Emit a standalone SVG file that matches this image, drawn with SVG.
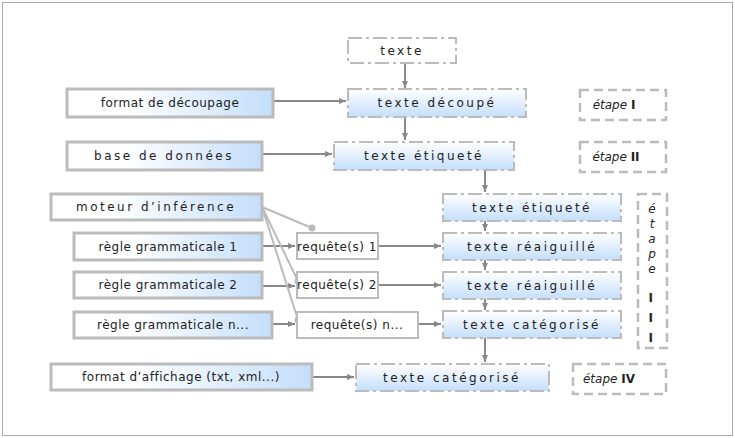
<svg xmlns="http://www.w3.org/2000/svg" width="735" height="438" viewBox="0 0 735 438">
<defs>
<linearGradient id="gh" x1="0" y1="0" x2="1" y2="0"><stop offset="0.3" stop-color="#fff"/><stop offset="1" stop-color="#c4defb"/></linearGradient>
<linearGradient id="gv" x1="0" y1="0" x2="0" y2="1"><stop offset="0" stop-color="#fff"/><stop offset="1" stop-color="#c4defb"/></linearGradient>
<marker id="a" markerWidth="8" markerHeight="8" refX="7" refY="4" orient="auto" markerUnits="userSpaceOnUse"><path d="M0,1 L7,4 L0,7 z" fill="#888"/></marker>
<marker id="c" markerWidth="8" markerHeight="8" refX="4" refY="4" markerUnits="userSpaceOnUse"><circle cx="4" cy="4" r="3.5" fill="#bbb"/></marker>
</defs>
<style>
.s{fill:url(#gh);stroke:#bbb;stroke-width:3}
.d{fill:url(#gv);stroke:#bbb;stroke-width:2;stroke-dasharray:14 4 3 4}
.e{fill:none;stroke:#bbb;stroke-width:2.5;stroke-dasharray:9 5}
.w{fill:#fff;stroke:#bbb;stroke-width:2}
text{font-family:"DejaVu Sans",sans-serif;font-size:12px;fill:#222;text-anchor:middle;letter-spacing:2.5px}
.t{letter-spacing:0.5px}
.i{font-style:italic;letter-spacing:0}
.l{stroke:#888;stroke-width:2;fill:none;marker-end:url(#a)}
.g{stroke:#bbb;stroke-width:2;fill:none;marker-end:url(#c)}
</style>
<rect x="2.5" y="2.5" width="730" height="433" fill="#fff" stroke="#aaa"/>
<g id="connectors">
<path class="l" d="M405,63 V88"/>
<path class="l" d="M273,101 H346"/>
<path class="l" d="M405,117 V140"/>
<path class="l" d="M262,154 H332"/>
<path class="l" d="M485,170 V192"/>
<path class="l" d="M485,221 V231"/>
<path class="l" d="M485,260 V270"/>
<path class="l" d="M485,299 V310"/>
<path class="l" d="M485,338 V362"/>
<path class="l" d="M312,377 H354"/>
<path class="l" d="M262,246 H295"/>
<path class="l" d="M262,286 H295"/>
<path class="l" d="M272,324 H295"/>
<path class="l" d="M378,246 H441"/>
<path class="l" d="M378,285 H441"/>
<path class="l" d="M418,324 H441"/>
<path class="g" d="M262,207 L312,228"/>
<path class="g" d="M262,207 L298,281"/>
<path class="g" d="M262,207 L298,320"/>
</g>
<g id="texte"><rect class="d" x="348" y="38" width="108" height="25" style="fill:#fff"/><text x="402" y="55">texte</text></g>
<g id="decoupe"><rect class="d" x="348" y="89" width="178" height="28"/><text x="437" y="107">texte découpé</text></g>
<g id="format"><rect class="s" x="67" y="89" width="206" height="28"/><text class="t" x="170" y="107">format de découpage</text></g>
<g id="etape1"><rect class="e" x="580" y="90" width="86" height="30"/><text class="i" x="614" y="109">étape <tspan font-weight="bold" font-style="normal">I</tspan></text></g>
<g id="bdd"><rect class="s" x="67" y="142" width="195" height="28"/><text x="164" y="160">base de données</text></g>
<g id="etiq1"><rect class="d" x="334" y="142" width="180" height="28"/><text x="424" y="160">texte étiqueté</text></g>
<g id="etape2"><rect class="e" x="580" y="142" width="86" height="30"/><text class="i" x="616" y="161">étape <tspan font-weight="bold" font-style="normal">II</tspan></text></g>
<g id="moteur"><rect class="s" x="51" y="194" width="211" height="26"/><text x="156" y="211">moteur d’inférence</text></g>
<g id="r1"><rect class="s" x="74" y="233" width="188" height="27"/><text class="t" x="168" y="251">règle grammaticale 1</text></g>
<g id="r2"><rect class="s" x="74" y="272" width="188" height="26"/><text class="t" x="168" y="289">règle grammaticale 2</text></g>
<g id="rn"><rect class="s" x="74" y="312" width="198" height="26"/><text class="t" x="173" y="329">règle grammaticale n...</text></g>
<g id="q1"><rect class="w" x="297" y="233" width="81" height="26"/><text class="t" x="337" y="251">requête(s) 1</text></g>
<g id="q2"><rect class="w" x="297" y="272" width="81" height="26"/><text class="t" x="337" y="289">requête(s) 2</text></g>
<g id="qn"><rect class="w" x="297" y="312" width="121" height="26"/><text class="t" x="357" y="329">requête(s) n...</text></g>
<g id="etiq2"><rect class="d" x="443" y="194" width="178" height="27"/><text x="532" y="212">texte étiqueté</text></g>
<g id="reai1"><rect class="d" x="443" y="233" width="178" height="27"/><text x="532" y="251">texte réaiguillé</text></g>
<g id="reai2"><rect class="d" x="443" y="272" width="178" height="27"/><text x="532" y="290">texte réaiguillé</text></g>
<g id="cat1"><rect class="d" x="443" y="311" width="178" height="27"/><text x="532" y="329">texte catégorisé</text></g>
<g id="etape3"><rect class="e" x="638" y="194" width="29" height="154"/>
<text class="i" x="652" y="213">é</text><text class="i" x="652" y="228">t</text><text class="i" x="652" y="243">a</text><text class="i" x="652" y="258">p</text><text class="i" x="652" y="273">e</text>
<text x="652" y="302" font-weight="bold">I</text><text x="652" y="322" font-weight="bold">I</text><text x="652" y="342" font-weight="bold">I</text></g>
<g id="affichage"><rect class="s" x="51" y="364" width="261" height="26"/><text class="t" x="181" y="381">format d’affichage (txt, xml...)</text></g>
<g id="cat2"><rect class="d" x="356" y="364" width="193" height="27"/><text x="452" y="382">texte catégorisé</text></g>
<g id="etape4"><rect class="e" x="573" y="364" width="93" height="30"/><text class="i" x="609" y="383">étape <tspan font-weight="bold" font-style="normal">IV</tspan></text></g>
</svg>
